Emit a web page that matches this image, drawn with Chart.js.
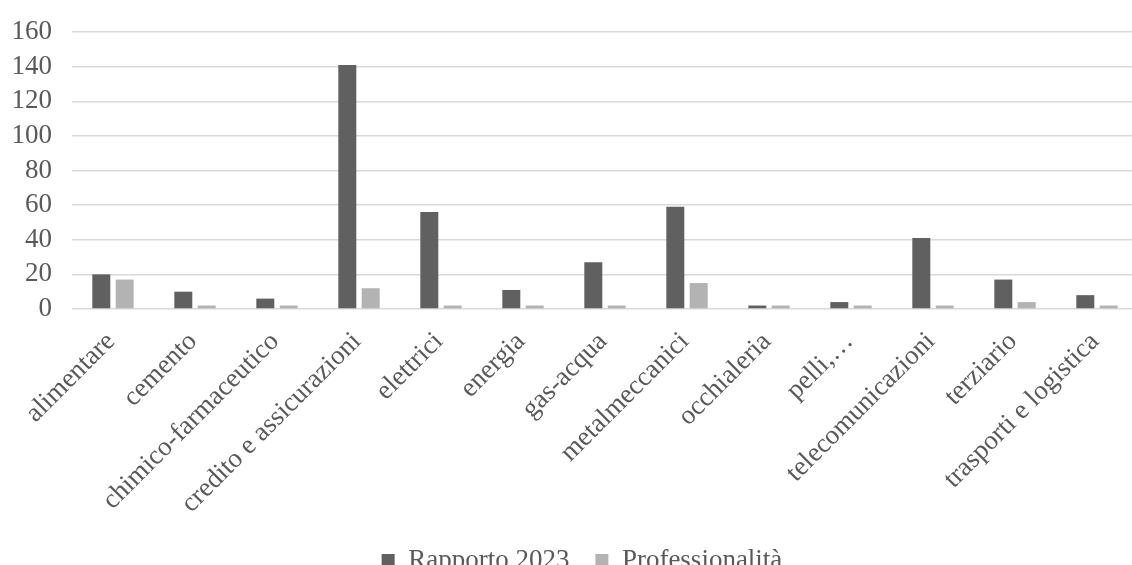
<!DOCTYPE html>
<html>
<head>
<meta charset="utf-8">
<script src="https://cdn.jsdelivr.net/npm/chart.js@4.4.1/dist/chart.umd.min.js"></script>
<style>
  html, body { margin: 0; padding: 0; background: #ffffff; overflow: hidden; }
  #wrap { width: 1132px; height: 565px; overflow: hidden; position: relative; }
  #box { width: 1140px; height: 584px; position: absolute; left: 0; top: 0; }
</style>
</head>
<body>
<div id="wrap"><div id="box"><canvas id="c"></canvas></div></div>
<script>
// Sectors (contract areas)
const categories = [
  "alimentare", "cemento", "chimico-farmaceutico", "credito e assicurazioni",
  "elettrici", "energia", "gas-acqua", "metalmeccanici", "occhialeria",
  "pelli,…", "telecomunicazioni", "terziario", "trasporti e logistica"
];
// Counts per sector
const rapporto2023 = [20, 10, 6, 141, 56, 11, 27, 59, 2, 4, 41, 17, 8];
const professionalita = [17, 2, 2, 12, 2, 2, 2, 15, 2, 2, 2, 4, 2];
// Value axis ticks
const yTicks = [0, 20, 40, 60, 80, 100, 120, 140, 160];

const seriesNames = ["Rapporto 2023", "Professionalità"];
const FONT = "'Liberation Serif', 'Times New Roman', serif";
const TEXT = "#595959";

// Centre the legend under the plot area, nudged left
const legendUnderPlot = {
  id: "legendUnderPlot",
  afterLayout(chart) {
    const lg = chart.legend, area = chart.chartArea;
    if (!lg) return;
    const shift = (area.left + area.right) / 2 - (lg.left + lg.right) / 2 - 23;
    lg.left += shift;
    lg.right += shift;
  }
};

new Chart(document.getElementById("c"), {
  type: "bar",
  data: {
    labels: categories,
    datasets: [
      { label: seriesNames[0], data: rapporto2023, backgroundColor: "#606060" },
      { label: seriesNames[1], data: professionalita, backgroundColor: "#b3b3b3" }
    ]
  },
  plugins: [legendUnderPlot],
  options: {
    responsive: true,
    maintainAspectRatio: false,
    animation: false,
    layout: { padding: { top: 0, right: 2, left: 0, bottom: 0 } },
    datasets: { bar: { categoryPercentage: 0.57, barPercentage: 0.77 } },
    plugins: {
      tooltip: { enabled: false },
      legend: {
        position: "bottom",
        labels: {
          font: { family: FONT, size: 27 },
          color: TEXT,
          boxWidth: 13,
          boxHeight: 13,
          padding: 26
        }
      }
    },
    scales: {
      x: {
        grid: { display: false, drawTicks: false },
        border: { display: false },
        ticks: {
          autoSkip: false,
          maxRotation: 45,
          minRotation: 45,
          padding: 17,
          labelOffset: -2,
          color: TEXT,
          font: { family: FONT, size: 27 }
        },
        afterFit: (s) => { s.height = 212; }
      },
      y: {
        min: 0,
        max: 160,
        afterBuildTicks: (s) => { s.ticks = yTicks.map(v => ({ value: v })); },
        grid: { color: "#d9d9d9", lineWidth: 1.5, drawTicks: false },
        border: { display: false },
        ticks: {
          autoSkip: false,
          padding: 20,
          color: TEXT,
          font: { family: FONT, size: 27, lineHeight: 0.89 }
        },
        afterFit: (s) => { s.width = 72; }
      }
    }
  }
});
</script>
</body>
</html>
